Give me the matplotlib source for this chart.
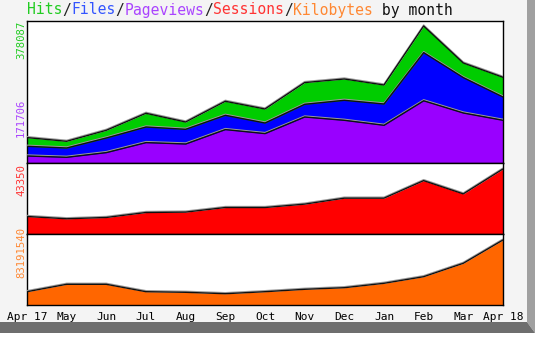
import matplotlib
matplotlib.use("Agg")
import matplotlib.pyplot as plt
from matplotlib.patches import Polygon, Rectangle
from matplotlib.transforms import ScaledTranslation

W, H, DPI = 547, 345, 100

months = ["Apr 17", "May", "Jun", "Jul", "Aug", "Sep", "Oct",
          "Nov", "Dec", "Jan", "Feb", "Mar", "Apr 18"]

hits = [70100, 59890, 90240, 137160, 113150, 170280, 149030,
        221890, 231820, 215260, 378087, 275980, 236510]
files = [46090, 41400, 69000, 99350, 93000, 131640, 110390,
         162000, 173040, 162830, 304680, 235690, 182150]
pageviews = [19320, 15730, 28700, 56300, 52440, 92180, 81140,
             126950, 117840, 104040, 171706, 137990, 117840]
sessions = [11680, 10160, 11020, 14340, 14610, 17660, 17660,
            19920, 23900, 23900, 35590, 26760, 43350]
kilobytes = [17020000, 26490000, 26490000, 17020000, 16250000, 14460000,
             17020000, 20090000, 22140000, 27770000, 36220000, 53370000,
             83191540]

C_HITS = "#00cc00"
C_FILES = "#0000ff"
C_PAGES = "#9900ff"
C_SESS = "#ff0000"
C_KB = "#ff6600"
T_HITS = "#22cc22"
T_FILES = "#3355ff"
T_PAGES = "#aa44ff"
T_SESS = "#ff3333"
T_KB = "#ff8833"

MONO = "DejaVu Sans Mono"

fig = plt.figure(figsize=(W / DPI, H / DPI), dpi=DPI, facecolor="white")


def fx(px):
    return px / W


def fy(py):
    return 1 - py / H


# panel background with raised frame
fig.add_artist(Rectangle((0, fy(322)), fx(527), 322 / H,
                         transform=fig.transFigure,
                         facecolor="#f4f4f4", edgecolor="none", zorder=0))
fig.add_artist(Polygon([(fx(527), fy(0)), (fx(535), fy(0)),
                        (fx(535), fy(333)), (fx(527), fy(322))],
                       closed=True, transform=fig.transFigure,
                       facecolor="#a0a0a0", edgecolor="none", zorder=0))
fig.add_artist(Polygon([(fx(0), fy(322)), (fx(527), fy(322)),
                        (fx(535), fy(333)), (fx(0), fy(333))],
                       closed=True, transform=fig.transFigure,
                       facecolor="#6e6e6e", edgecolor="none", zorder=0))

L, R = 27, 503


def make_ax(top, bottom, ymax, headroom_px):
    ax = fig.add_axes([fx(L), fy(bottom), fx(R - L), (bottom - top) / H])
    ax.set_facecolor("white")
    ax.set_xlim(0, len(months) - 1)
    h = bottom - top
    ax.set_ylim(0, ymax * h / (h - headroom_px))
    ax.set_xticks([])
    ax.set_yticks([])
    for s in ax.spines.values():
        s.set_color("black")
        s.set_linewidth(1.0)
    return ax


def area(ax, vals, col):
    ax.fill_between(x, 0, vals, color=col, linewidth=0)
    shift = ax.transData + ScaledTranslation(0, 1 / DPI, fig.dpi_scale_trans)
    ax.plot(x, vals, color="#9a9a9a", lw=1.0, zorder=3, transform=shift)
    ax.plot(x, vals, color="#101010", lw=1.0, zorder=4)


x = list(range(len(months)))

ax1 = make_ax(21, 163, max(hits), 5)
for vals, col in ((hits, C_HITS), (files, C_FILES), (pageviews, C_PAGES)):
    area(ax1, vals, col)

ax2 = make_ax(163, 234, max(sessions), 6)
area(ax2, sessions, C_SESS)

ax3 = make_ax(234, 305, max(kilobytes), 6)
area(ax3, kilobytes, C_KB)

ax3.set_xticks(x)
ax3.set_xticklabels(months, family=MONO, fontsize=8, color="black")
ax3.tick_params(axis="x", length=0, pad=5)

# rotated maximum labels
lab_x = fx(21)
lab_kw = dict(rotation=90, rotation_mode="anchor", ha="right", va="center",
              family=MONO, fontsize=7.7, transform=fig.transFigure)
fig.text(lab_x, fy(21), str(max(hits)), color=T_HITS, **lab_kw)
ypv = ax1.transData.transform((0, max(pageviews)))[1]
fig.text(lab_x, (ypv + 2) / H, str(max(pageviews)), color=T_PAGES, **lab_kw)
fig.text(lab_x, fy(164), str(max(sessions)), color=T_SESS, **lab_kw)
fig.text(lab_x, fy(227), str(max(kilobytes)), color=T_KB, **lab_kw)

# coloured title, piece by piece
parts = [("Hits", T_HITS), ("/", "#222222"), ("Files", T_FILES), ("/", "#222222"),
         ("Pageviews", T_PAGES), ("/", "#222222"), ("Sessions", T_SESS),
         ("/", "#222222"), ("Kilobytes", T_KB), (" by month", "#111111")]
fig.canvas.draw()
renderer = fig.canvas.get_renderer()
xpos = fx(27)
for txt, col in parts:
    t = fig.text(xpos, fy(10), txt, color=col, family=MONO, fontsize=10.6,
                 ha="left", va="center")
    bb = t.get_window_extent(renderer)
    xpos = bb.x1 / W

fig.savefig("out.png", dpi=DPI, facecolor="white")
